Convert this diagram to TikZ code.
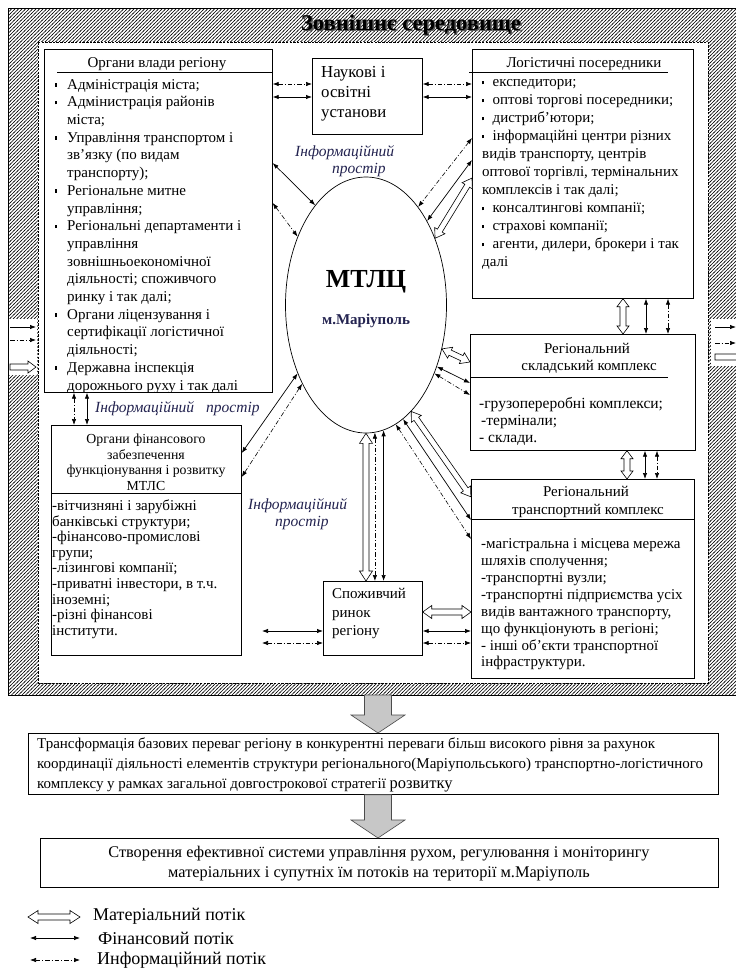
\documentclass[tikz,border=0pt]{standalone}
\usepackage{fontspec}
\setmainfont{Liberation Serif}
\usetikzlibrary{arrows.meta,calc,patterns,shapes.geometric}
\definecolor{infoc}{RGB}{35,35,80}
\pgfdeclarepatternformonly{envhatch}{\pgfqpoint{-1pt}{-1pt}}{\pgfqpoint{4.5pt}{4.5pt}}{\pgfqpoint{3.5pt}{3.5pt}}{%
 \pgfsetlinewidth{0.55pt}\pgfpathmoveto{\pgfqpoint{-0.5pt}{-0.5pt}}\pgfpathlineto{\pgfqpoint{4pt}{4pt}}\pgfusepath{stroke}}
\newcommand\bul{\makebox[12pt][l]{\rule[2.5pt]{2.2pt}{3.6pt}}}
\newcommand\lbul{\makebox[10.5pt][l]{\rule[2.5pt]{2.2pt}{3.6pt}}}
\newcommand\fsz[2]{\fontsize{#1}{#2}\selectfont}
\newcommand\hollowtwo[6]{%
 \path[#1] let \p1=(#5), \p2=(#6), \n1={atan2(\y2-\y1,\x2-\x1)}, \n2={veclen(\x2-\x1,\y2-\y1)} in
 [shift={(\p1)}, rotate=\n1]
 (0pt,0pt) -- (#4pt,#3pt) -- (#4pt,#2pt) -- ({\n2-#4pt},#2pt) -- ({\n2-#4pt},#3pt) -- ({\n2+0pt},0pt)
 -- ({\n2-#4pt},-#3pt) -- ({\n2-#4pt},-#2pt) -- (#4pt,-#2pt) -- (#4pt,-#3pt) -- cycle;}
\newcommand\hollowone[6]{%
 \path[#1] let \p1=(#5), \p2=(#6), \n1={atan2(\y2-\y1,\x2-\x1)}, \n2={veclen(\x2-\x1,\y2-\y1)} in
 [shift={(\p1)}, rotate=\n1]
 (0pt,#2pt) -- ({\n2-#4pt},#2pt) -- ({\n2-#4pt},#3pt) -- ({\n2+0pt},0pt)
 -- ({\n2-#4pt},-#3pt) -- ({\n2-#4pt},-#2pt) -- (0pt,-#2pt) -- cycle;}
\tikzset{
 box/.style={draw, line width=0.7pt, rectangle, anchor=north west, inner sep=0pt},
 fin/.style={line width=0.7pt,<->},
 finr/.style={line width=0.7pt,->},
 info/.style={line width=0.6pt,dash pattern=on 4.5pt off 2pt on 1pt off 2pt,<->},
 infor/.style={line width=0.6pt,dash pattern=on 4.5pt off 2pt on 1pt off 2pt,->},
 mat/.style={draw, line width=0.6pt, fill=white},
 bigarr/.style={draw=black!70, line width=0.6pt, fill=black!22},
 txt/.style={anchor=north west, inner sep=0pt, align=left},
 ilbl/.style={font=\fsz{15.5}{17.5}\itshape, text=infoc, inner sep=0pt, align=left, anchor=north west}
}
\begin{document}
\begin{tikzpicture}[x=1pt,y=-1pt,>={Latex[length=6pt,width=4.4pt]}]
\useasboundingbox (0,0) rectangle (736,969);
\fill[white] (0,0) rectangle (736,969);
% environment frame
\begin{scope}
\clip (0,0) rectangle (736,969);
\node[draw, line width=0.8pt, pattern=envhatch, anchor=north west, minimum width=752, minimum height=687, inner sep=0pt] (env) at (8,8) {};
\fill[white] (38,42) rectangle (708,683);
\draw[line width=0.5pt, dash pattern=on 2.5pt off 1.2pt] (38,42) rectangle (708,683);
\end{scope}
\node[font=\fsz{22.5}{25}\bfseries, text=black!65] (ttlsh) at (412.5,26.5) {Зовнішнє середовище};
\node[font=\fsz{22.5}{25}\bfseries] (ttl) at (411,25) {Зовнішнє середовище};

% boxes
\node[box, minimum width=228, minimum height=343] (lb) at (44,49) {};
\node[box, minimum width=110, minimum height=76] (nu) at (312,58) {};
\node[box, minimum width=221, minimum height=249] (lp) at (472,49) {};
\node[box, minimum width=225, minimum height=116] (sk) at (470,334) {};
\node[box, minimum width=223, minimum height=199] (tk) at (471,479) {};
\node[box, minimum width=190, minimum height=230] (fb) at (51,425) {};
\node[box, minimum width=99, minimum height=74] (sr) at (323,581) {};
\node[draw, ellipse, line width=0.7pt, minimum width=161, minimum height=256, inner sep=0pt] (elp) at (366,305) {};

% left box text
\node[font=\fsz{15}{17}, inner sep=0pt] (lbh) at (157,64) {Органи влади регіону};
\draw[line width=0.6pt] (lb.west |- 0,72) ++(13,0) coordinate (lbu1) -- (lb.east |- 0,72) ++(-16,0) coordinate (lbu2);
\begin{scope}
\clip (44,49) rectangle (272,392);
\node[txt, font=\fsz{15}{17.7}] (lbt) at (55,79) {\bul Адміністрація міста;\\
\bul Адмінистрація районів\\
\hspace{12pt}міста;\\
\bul Управління транспортом  і\\
\hspace{12pt}зв’язку  (по видам\\
\hspace{12pt}транспорту);\\
\bul Регіональне митне\\
\hspace{12pt}управління;\\
\bul Регіональні департаменти  і\\
\hspace{12pt}управління\\
\hspace{12pt}зовнішньоекономічної\\
\hspace{12pt}діяльності; споживчого\\
\hspace{12pt}ринку і так  далі;\\
\bul Органи ліцензування  і\\
\hspace{12pt}сертифікації  логістичної\\
\hspace{12pt}діяльності;\\
\bul Державна інспекція\\
\hspace{12pt}дорожнього руху і так  далі};
\end{scope}

% science box
\node[txt, font=\fsz{16.8}{20}] (nut) at (321,66) {Наукові і\\освітні\\установи};

% logistics box
\node[font=\fsz{15}{17}, inner sep=0pt] (lph) at (584,64) {Логістичні посередники};
\draw[line width=0.6pt] (469,72) coordinate (lpu1) -- (668,72) coordinate (lpu2);
\node[txt, font=\fsz{15}{18}] (lpt) at (482,79.5) {\lbul експедитори;\\
\lbul оптові торгові посередники;\\
\lbul дистриб’ютори;\\
\lbul інформаційні  центри  різних\\
видів транспорту,  центрів\\
оптової торгівлі, термінальних\\
комплексів і так  далі;\\
\lbul консалтингові компанії;\\
\lbul страхові компанії;\\
\lbul агенти, дилери, брокери і так\\
далі};

% warehouse box
\node[font=\fsz{15}{17}, inner sep=0pt, align=center, anchor=north] (skh) at (587,343.5) {Регіональний\\\hspace{4pt}складський комплекс};
\draw[line width=0.6pt] (sk.west |- 0,377) coordinate (sku1) -- (668,377) coordinate (sku2);
\node[txt, font=\fsz{15.5}{17}] (skt) at (479,397.5) {-грузопереробні  комплекси;\\\hspace{2pt}-термінали;\\- склади.};

% transport box
\node[font=\fsz{15}{18}, inner sep=0pt, align=center, anchor=north] (tkh) at (586,486.5) {Регіональний\\\hspace{4pt}транспортний  комплекс};
\draw[line width=0.6pt] (tk.west |- 0,519) -- (tk.east |- 0,519);
\node[txt, font=\fsz{15}{16.9}] (tkt) at (481,538.5) {-магістральна і місцева мережа\\
шляхів сполучення;\\
-транспортні  вузли;\\
-транспортні  підприємства  усіх\\
видів вантажного  транспорту,\\
що функціонують  в регіоні;\\
- інші  об’єкти транспортної\\
інфраструктури.};

% finance box
\node[font=\fsz{13.8}{15.5}, inner sep=0pt, align=center, anchor=north] (fbh) at (146,434) {Органи фінансового\\забезпечення\\функціонування і розвитку\\МТЛС};
\draw[line width=0.6pt] (fb.west |- 0,493) -- (fb.east |- 0,493);
\node[txt, font=\fsz{15}{15.6}] (fbt) at (52,499.5) {-вітчизняні і зарубіжні\\
банківські структури;\\
-фінансово-промислові\\
групи;\\
-лізингові компанії;\\
-приватні інвестори,  в т.ч.\\
іноземні;\\
-різні фінансові\\
інститути.};

% consumer market
\node[txt, font=\fsz{15}{18.5}] (srt) at (332,588.5) {Споживчий\\ринок\\регіону};

% ellipse text
\node[font=\fsz{26}{30}\bfseries] (mt) at (366,282) {МТЛЦ};
\node[font=\fsz{15}{17}\bfseries, text=infoc] (mtc) at (366,321) {м.Маріуполь};

% info labels
\node[ilbl] (il1) at (295,145) {Інформаційний\\\hspace{37pt}простір};
\node[ilbl, anchor=west] (il2) at (95,409) {Інформаційний\hspace{12pt}простір};
\node[ilbl] (il3) at (248,498) {Інформаційний\\\hspace{27pt}простір};

% connectors: science
\draw[info] (lb.east |- 0,84) -- (nu.west |- 0,84);
\draw[fin] (lb.east |- 0,97) -- (nu.west |- 0,97);
\draw[info] (nu.east |- 0,84) -- (lp.west |- 0,84);
\draw[fin] (nu.east |- 0,97) -- (lp.west |- 0,97);
% left box - ellipse
\draw[fin] (lb.east |- 0,163) -- (elp.117);
\draw[info] (lb.east |- 0,203) -- (elp.135.5);
% logistics - ellipse
\draw[info] (lp.west |- 0,138) -- (elp.62.6);
\draw[fin] (lp.west |- 0,160) -- (elp.54);
\hollowtwo{mat}{2.8}{6}{9}{elp.44}{lp.west |- 0,178}
% warehouse - ellipse
\hollowtwo{mat}{2.8}{6}{9}{elp.-30.7}{sk.west |- 0,362}
\draw[fin] (elp.-41) -- (sk.west |- 0,383);
\draw[info] (elp.-45.4) -- (sk.west |- 0,395);
% transport - ellipse
\hollowtwo{mat}{2.8}{6}{9}{elp.-67}{tk.west |- 0,497}
\draw[fin] (elp.-72) -- (tk.west |- 0,520);
\draw[info] (elp.-76) -- (tk.west |- 0,539);
% finance - ellipse
\draw[fin] (elp.225.8) -- (fb.east |- 0,453);
\draw[info] (elp.231.8) -- (fb.east |- 0,477);
% consumer market - ellipse
\hollowtwo{mat}{3}{6.5}{10}{elp.-90}{elp.-90 |- sr.north}
\draw[info] (elp.-86) -- (elp.-86 |- sr.north);
\draw[fin] (elp.-82) -- (elp.-82 |- sr.north);
% consumer market sides
\coordinate (sl1) at (262,631);
\coordinate (sl2) at (262,643);
\draw[fin] (sl1) -- (sr.west |- sl1);
\draw[info] (sl2) -- (sr.west |- sl2);
\hollowtwo{mat}{3}{6.5}{9}{sr.east |- 0,612}{tk.west |- 0,612}
\draw[fin] (sr.east |- 0,631) -- (tk.west |- 0,631);
\draw[info] (sr.east |- 0,643) -- (tk.west |- 0,643);
% vertical left
\draw[info] (lb.south -| 74,0) -- (fb.north -| 74,0);
\draw[fin] (lb.south -| 87,0) -- (fb.north -| 87,0);
% vertical right
\hollowtwo{mat}{3}{6}{8}{lp.south -| 623,0}{sk.north -| 623,0}
\draw[fin] (lp.south -| 646,0) -- (sk.north -| 646,0);
\draw[info] (lp.south -| 668,0) -- (sk.north -| 668,0);
\hollowtwo{mat}{3}{6}{8}{sk.south -| 627,0}{tk.north -| 627,0}
\draw[fin] (sk.south -| 645,0) -- (tk.north -| 645,0);
\draw[info] (sk.south -| 657,0) -- (tk.north -| 657,0);

% edge arrows
\fill[white] (9,319) rectangle (37,375);
\fill[white] (711,319) rectangle (736,366);
\coordinate (le1) at (10,327); \coordinate (le2) at (10,340); \coordinate (le3) at (10,367);
\coordinate (le1e) at (36,327); \coordinate (le2e) at (36,340); \coordinate (le3e) at (36,367);
\draw[finr] (le1) -- (le1e);
\draw[infor] (le2) -- (le2e);
\hollowone{mat}{3}{6}{8}{le3}{le3e}
\coordinate (re1) at (715,327); \coordinate (re2) at (715,343); \coordinate (re3) at (715,357);
\coordinate (re1e) at (736,327); \coordinate (re2e) at (736,343); \coordinate (re3e) at (745,357);
\draw[finr] (re1) -- (re1e);
\draw[infor] (re2) -- (re2e);
\hollowone{mat}{3}{6}{8}{re3}{re3e}

% bottom boxes
\node[box, minimum width=690, minimum height=61] (b1) at (28,733) {};
\node[box, minimum width=678, minimum height=49] (b2) at (40,838) {};
\node[txt, font=\fsz{15}{20}] (b1t) at (37,737.5) {Трансформація базових переваг регіону в конкурентні переваги більш високого рівня за рахунок\\
координації діяльності елементів структури регіонального(Маріупольського) транспортно-логістичного\\
комплексу  у рамках загальної довгострокової стратегії {\fsz{16.5}{20}розвитку}};
\node[font=\fsz{16.3}{19.5}, align=center, inner sep=0pt, anchor=north] (b2t) at (379,846) {Створення ефективної системи управління рухом, регулювання і моніторингу\\матеріальних і супутніх їм потоків на території м.Маріуполь};
\coordinate (a1s) at (378,695);
\hollowone{bigarr}{13.5}{27}{18}{a1s}{b1.north -| a1s}
\hollowone{bigarr}{13.5}{27}{18}{b1.south -| a1s}{b2.north -| a1s}

% legend
\coordinate (lg1a) at (28,917); \coordinate (lg1b) at (80,917);
\coordinate (lg2a) at (30,938); \coordinate (lg2b) at (80,938);
\coordinate (lg3a) at (30,960); \coordinate (lg3b) at (80,960);
\hollowtwo{mat}{3}{6.5}{10}{lg1a}{lg1b}
\draw[fin] (lg2a) -- (lg2b);
\draw[info] (lg3a) -- (lg3b);
\node[font=\fsz{18}{20}, anchor=west, inner sep=0pt] (lgt1) at (93,916) {Матеріальний потік};
\node[font=\fsz{18}{20}, anchor=west, inner sep=0pt] (lgt2) at (98,938) {Фінансовий потік};
\node[font=\fsz{18}{20}, anchor=west, inner sep=0pt] (lgt3) at (97,960) {Информаційний потік};
\end{tikzpicture}
\end{document}
